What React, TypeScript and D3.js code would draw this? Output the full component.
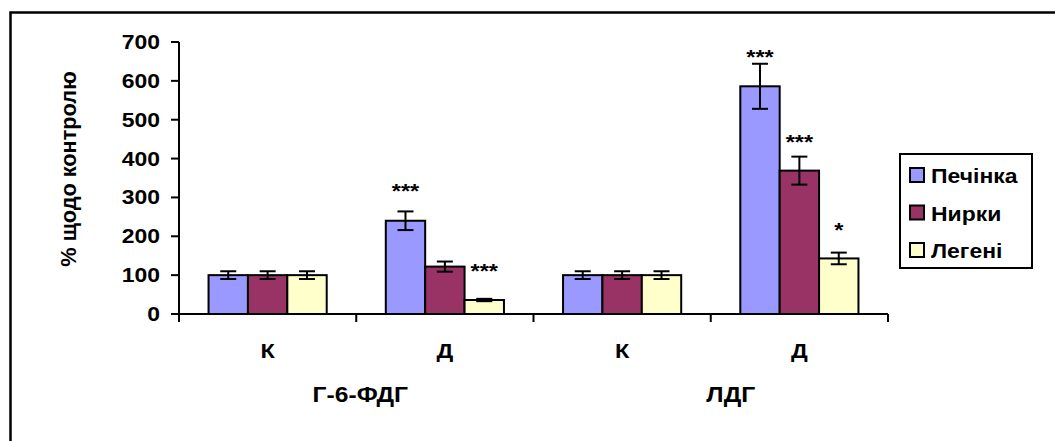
import React from "react";
import * as d3 from "d3";

const categories = ["К", "Д", "К", "Д"];
const groups = ["Г-6-ФДГ", "ЛДГ"];
const seriesNames = ["Печінка", "Нирки", "Легені"];
const seriesColors = ["#9999FF", "#993366", "#FFFFCC"];
// values per category (К, Д, К, Д) for each series
const pechinka = [100, 240, 100, 586];
const nyrky = [100, 122, 100, 369];
const legeni = [100, 36, 100, 143];
const pechinkaErr = [10, 24, 10, 58];
const nyrkyErr = [10, 13, 10, 36];
const legeniErr = [10, 3, 10, 15];
// significance marks: [category index, series index, label, y position in value units]
const sigMarks: [number, number, string, number][] = [
  [1, 0, "***", 327],
  [1, 2, "***", 121],
  [3, 0, "***", 672],
  [3, 1, "***", 453],
  [3, 2, "*", 226],
];
const yTicks = [0, 100, 200, 300, 400, 500, 600, 700];

const W = 1055;
const H = 441;
const FONT = "Arial, 'Liberation Sans', sans-serif";
const SX = 1.12;

function T({ x, y, size, anchor, children }: { x: number; y: number; size: number; anchor?: string; children: React.ReactNode }) {
  return (
    <text
      transform={`translate(${x},${y}) scale(${SX},1)`}
      textAnchor={anchor || "start"}
      fontSize={size}
    >
      {children}
    </text>
  );
}

export default function App() {
  const values = [pechinka, nyrky, legeni];
  const errs = [pechinkaErr, nyrkyErr, legeniErr];
  const x0 = d3
    .scaleBand<number>()
    .domain(categories.map((_, i) => i))
    .range([179, 888])
    .paddingInner(0)
    .paddingOuter(0);
  const x1 = d3
    .scaleBand<number>()
    .domain(seriesNames.map((_, i) => i))
    .range([0, x0.bandwidth()])
    .paddingOuter(0.75)
    .paddingInner(0);
  const y = d3.scaleLinear().domain([0, 700]).range([314, 42]);
  const bw = x1.bandwidth();
  const capW = 16;

  return (
    <svg
      width={W}
      height={H}
      style={{ position: "absolute", left: 0, top: 0, background: "#fff" }}
      fontFamily={FONT}
      fontWeight="bold"
    >
      <rect x={0} y={0} width={W} height={H} fill="#fff" />
      {/* outer border (cropped at right and bottom) */}
      <path d={`M10.5,${H + 5} V12.5 H${W + 5}`} fill="none" stroke="#000" strokeWidth={2.5} />

      {/* bars */}
      {values.map((vals, s) =>
        vals.map((v, c) => {
          const bx = (x0(c) as number) + (x1(s) as number);
          return (
            <rect
              key={`b${s}-${c}`}
              x={bx}
              y={y(v)}
              width={bw}
              height={y(0) - y(v)}
              fill={seriesColors[s]}
              stroke="#000"
              strokeWidth={2}
            />
          );
        })
      )}

      {/* error bars */}
      {values.map((vals, s) =>
        vals.map((v, c) => {
          const cx = (x0(c) as number) + (x1(s) as number) + bw / 2;
          const e = errs[s][c];
          return (
            <g key={`e${s}-${c}`} stroke="#000" strokeWidth={2}>
              <line x1={cx} x2={cx} y1={y(v + e)} y2={y(v - e)} />
              <line x1={cx - capW / 2} x2={cx + capW / 2} y1={y(v + e)} y2={y(v + e)} />
              <line x1={cx - capW / 2} x2={cx + capW / 2} y1={y(v - e)} y2={y(v - e)} />
            </g>
          );
        })
      )}

      {/* significance marks */}
      {sigMarks.map(([c, s, lbl, pos], i) => {
        const cx = (x0(c) as number) + (x1(s) as number) + bw / 2;
        return (
          <T key={`s${i}`} x={cx} y={y(pos) + 11} size={21} anchor="middle">
            {lbl}
          </T>
        );
      })}

      {/* y axis */}
      <line x1={179} x2={179} y1={y(700)} y2={y(0) + 8} stroke="#000" strokeWidth={2} />
      {yTicks.map((t) => (
        <g key={`yt${t}`}>
          <line x1={171} x2={179} y1={y(t)} y2={y(t)} stroke="#000" strokeWidth={2} />
          <T x={160} y={y(t) + 7} size={20.5} anchor="end">
            {t}
          </T>
        </g>
      ))}
      <text
        transform={`translate(76,169) rotate(-90) scale(1.06,1.08)`}
        textAnchor="middle"
        fontSize={20.5}
      >
        % щодо контролю
      </text>

      {/* x axis */}
      <line x1={179} x2={888} y1={y(0)} y2={y(0)} stroke="#000" strokeWidth={2} />
      {categories.map((_, i) =>
        i > 0 ? (
          <line
            key={`xt${i}`}
            x1={x0(i) as number}
            x2={x0(i) as number}
            y1={y(0)}
            y2={y(0) + 8}
            stroke="#000"
            strokeWidth={2}
          />
        ) : null
      )}
      <line x1={888} x2={888} y1={y(0)} y2={y(0) + 8} stroke="#000" strokeWidth={2} />
      {categories.map((c, i) => (
        <T
          key={`xl${i}`}
          x={(x0(i) as number) + x0.bandwidth() / 2}
          y={358}
          size={21}
          anchor="middle"
        >
          {c}
        </T>
      ))}
      {groups.map((g, gi) => (
        <T
          key={`g${gi}`}
          x={(x0(gi * 2 + 1) as number) + (gi === 0 ? 4 : 20)}
          y={402}
          size={22}
          anchor="middle"
        >
          {g}
        </T>
      ))}

      {/* legend */}
      <rect x={900} y={154} width={132} height={114} fill="#fff" stroke="#000" strokeWidth={2} />
      {seriesNames.map((n, i) => (
        <g key={`l${i}`}>
          <rect
            x={910}
            y={168 + i * 37.5}
            width={14}
            height={14}
            fill={seriesColors[i]}
            stroke="#000"
            strokeWidth={2}
          />
          <T x={931} y={183 + i * 37.5} size={20.5}>
            {n}
          </T>
        </g>
      ))}
    </svg>
  );
}
